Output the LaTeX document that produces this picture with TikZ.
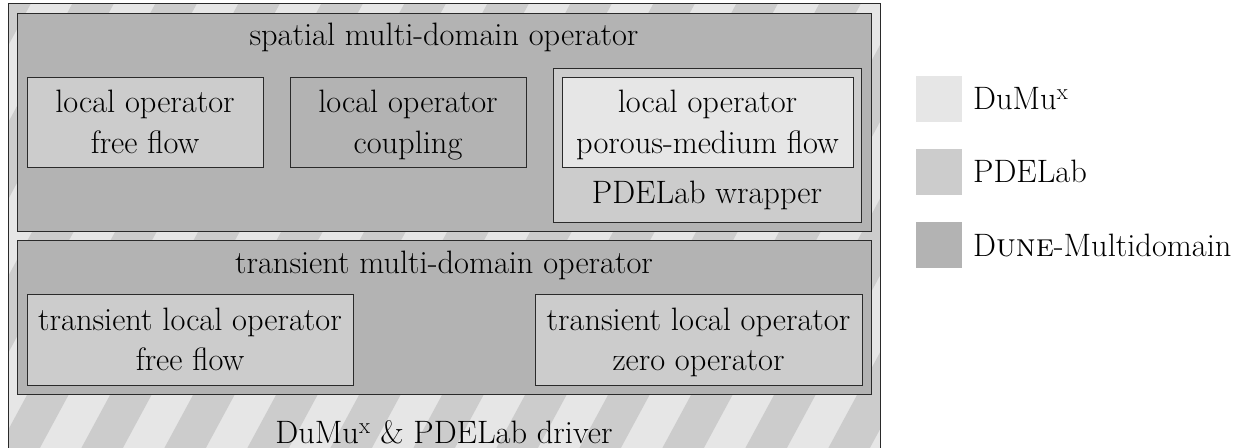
\documentclass[tikz,border=0pt]{standalone}
\definecolor{cdumux}{HTML}{E6E6E6}
\definecolor{cpde}{HTML}{CCCCCC}
\definecolor{cdune}{HTML}{B3B3B3}
\definecolor{edgecol}{HTML}{2A2A2A}
\begin{document}
\begin{tikzpicture}[x=1pt,y=-1pt,
  box/.style={draw=edgecol,line width=1.3pt,inner sep=0pt,anchor=north west},
  lbl/.style={anchor=base,inner sep=0pt,text=black,font=\fontsize{32.4}{40}\selectfont},
  keytext/.style={lbl,anchor=base west},
  keybox/.style={minimum width=46pt,minimum height=46pt,inner sep=0pt,anchor=north west}]
\useasboundingbox (0,0) rectangle (1236,447);
% striped background of the driver box
\begin{scope}
  \clip (8,3) rectangle (880,455);
  \fill[cdumux] (8,3) rectangle (880,455);
  \foreach \k in {-5,...,12} {
    \fill[cpde] ({27+83*\k+0.54*400},-5) -- ++(41.5,0)
      -- ({27+83*\k+41.5-0.54*60},455) -- ++(-41.5,0) -- cycle;
  }
\end{scope}
\node[box,minimum width=872pt,minimum height=452pt] (drv) at (8,3) {};
% spatial operator
\node[box,fill=cdune,minimum width=854pt,minimum height=218pt] (sp) at (17,13) {};
\node[lbl] (spt) at (444,45) {spatial multi-domain operator};
\node[box,fill=cpde,minimum width=236pt,minimum height=90pt] (lff) at (27,77) {};
\node[lbl] (lff1) at (145,112) {local operator};
\node[lbl] (lff2) at (145,153) {free flow};
\node[box,fill=cdune,minimum width=236pt,minimum height=90pt] (cpl) at (290,77) {};
\node[lbl] (cpl1) at (408,112) {local operator};
\node[lbl] (cpl2) at (408,153) {coupling};
\node[box,fill=cpde,minimum width=308pt,minimum height=154pt] (wrp) at (553,68) {};
\node[box,fill=cdumux,minimum width=291pt,minimum height=90pt] (pm) at (562,77) {};
\node[lbl] (pm1) at (707.5,112) {local operator};
\node[lbl] (pm2) at (707.5,153) {porous-medium flow};
\node[lbl] (wrpt) at (707,203) {PDELab wrapper};
% transient operator
\node[box,fill=cdune,minimum width=854pt,minimum height=154pt] (tr) at (17,240) {};
\node[lbl] (trt) at (444,273) {transient multi-domain operator};
\node[box,fill=cpde,minimum width=326pt,minimum height=91pt] (tff) at (27,294) {};
\node[lbl] (tff1) at (190,330) {transient local operator};
\node[lbl] (tff2) at (190,370) {free flow};
\node[box,fill=cpde,minimum width=327pt,minimum height=91pt] (tz) at (535,294) {};
\node[lbl] (tz1) at (698.5,330) {transient local operator};
\node[lbl] (tz2) at (698.5,370) {zero operator};
\node[lbl] (drvt) at (444,443) {DuMu\textsuperscript{x} \& PDELab driver};
% legend
\node[keybox,fill=cdumux] (k1) at (916,76) {};
\node[keybox,fill=cpde] (k2) at (916,149) {};
\node[keybox,fill=cdune] (k3) at (916,222) {};
\node[keytext] (k1t) at (973,109) {DuMu\textsuperscript{x}};
\node[keytext] (k2t) at (973,182) {PDELab};
\node[keytext] (k3t) at (973,256) {D\textsc{une}-Multidomain};
\end{tikzpicture}
\end{document}
